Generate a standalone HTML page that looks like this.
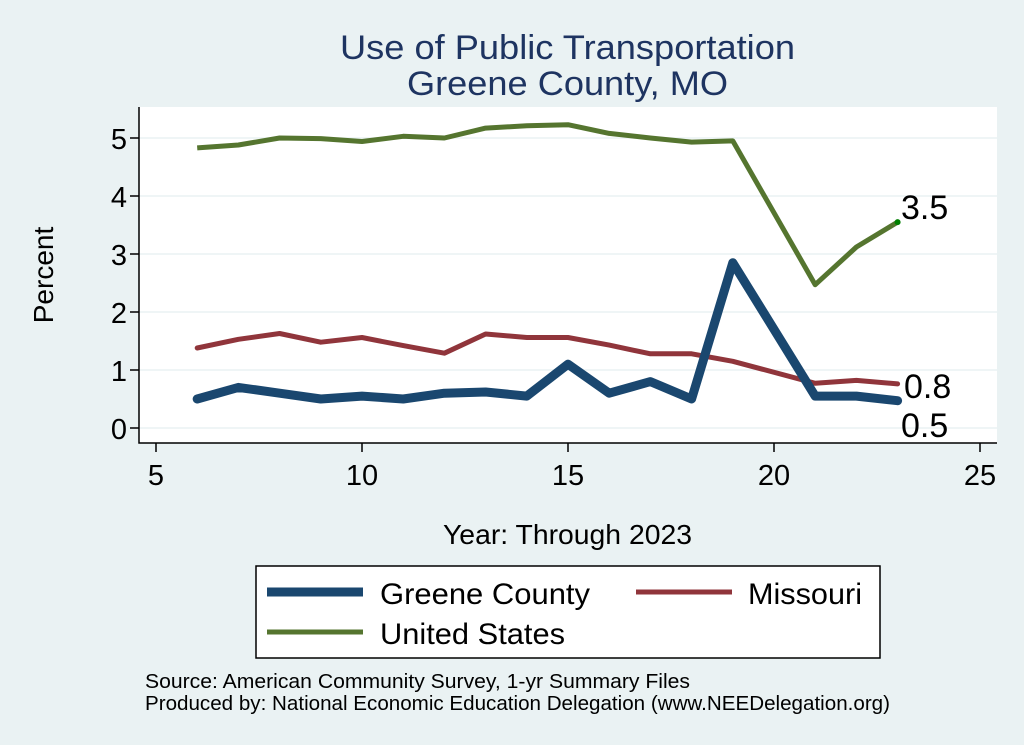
<!DOCTYPE html>
<html><head><meta charset="utf-8"><style>
html,body{margin:0;padding:0;background:#eaf2f3;}
svg{display:block;font-family:"Liberation Sans",Arial,sans-serif;}
</style></head><body>
<svg width="1024" height="745" viewBox="0 0 1024 745">
<rect width="1024" height="745" fill="#eaf2f3"/>
<rect x="139" y="107" width="858" height="336" fill="#fff"/>
<g stroke="#eaf2f3" stroke-width="1.5">
<line x1="139" x2="997" y1="428" y2="428"/><line x1="139" x2="997" y1="370" y2="370"/>
<line x1="139" x2="997" y1="312" y2="312"/><line x1="139" x2="997" y1="254" y2="254"/>
<line x1="139" x2="997" y1="196" y2="196"/><line x1="139" x2="997" y1="138" y2="138"/>
</g>
<g stroke="#000" stroke-width="1.5" fill="none">
<polyline points="139,107 139,443 997,443"/>
<line x1="130" x2="139" y1="428" y2="428"/><line x1="130" x2="139" y1="370" y2="370"/>
<line x1="130" x2="139" y1="312" y2="312"/><line x1="130" x2="139" y1="254" y2="254"/>
<line x1="130" x2="139" y1="196" y2="196"/><line x1="130" x2="139" y1="138" y2="138"/>
<line x1="156" x2="156" y1="443" y2="452"/><line x1="362" x2="362" y1="443" y2="452"/>
<line x1="568" x2="568" y1="443" y2="452"/><line x1="774" x2="774" y1="443" y2="452"/>
<line x1="980" x2="980" y1="443" y2="452"/>
</g>
<g font-size="29" fill="#000" text-anchor="end">
<text x="127" y="439">0</text><text x="127" y="381">1</text><text x="127" y="323">2</text>
<text x="127" y="265">3</text><text x="127" y="207">4</text><text x="127" y="149">5</text>
</g>
<g font-size="29" fill="#000" text-anchor="middle">
<text x="156" y="485">5</text><text x="362" y="485">10</text><text x="568" y="485">15</text>
<text x="774" y="485">20</text><text x="980" y="485">25</text>
</g>
<text x="443" y="544" font-size="28" textLength="249" lengthAdjust="spacingAndGlyphs">Year: Through 2023</text>
<text transform="translate(53,275) rotate(-90)" font-size="28" text-anchor="middle">Percent</text>
<g font-size="34" fill="#1e3461">
<text x="340" y="59" textLength="455" lengthAdjust="spacingAndGlyphs">Use of Public Transportation</text>
<text x="407" y="95" textLength="321" lengthAdjust="spacingAndGlyphs">Greene County, MO</text>
</g>
<g fill="none" stroke-linejoin="round">
<polyline stroke="#55752f" stroke-width="5" points="197.2,147.9 238.4,145 279.6,138 320.8,138.6 362,141.5 403.2,136.3 444.4,138 485.6,128.1 526.8,125.8 568,124.7 609.2,133.4 650.4,138 691.6,142.1 732.8,140.9 815.2,284.7 856.4,247 897.6,222.1"/>
<polyline stroke="#90353b" stroke-width="5" stroke-linecap="round" points="197.2,348 238.4,339.3 279.6,333.5 320.8,342.2 362,337.5 403.2,345.6 444.4,353.2 485.6,334 526.8,337.5 568,337.5 609.2,345.1 650.4,353.8 691.6,353.8 732.8,361.3 815.2,383.3 856.4,380.4 897.6,383.9"/>
<polyline stroke="#1a476f" stroke-width="9" stroke-linecap="round" points="197.2,399 238.4,387.4 279.6,393.2 320.8,399 362,396.1 403.2,399 444.4,393.2 485.6,392 526.8,396.1 568,364.2 609.2,393.2 650.4,381.6 691.6,399 732.8,262.7 815.2,396.1 856.4,396.1 897.6,400.7"/>
</g>
<circle cx="897.6" cy="222.1" r="3" fill="#008000"/>
<g font-size="34" fill="#000">
<text x="901" y="219">3.5</text>
<text x="904" y="398">0.8</text>
<text x="901" y="437">0.5</text>
</g>
<rect x="256" y="566" width="624" height="92" fill="#fff" stroke="#000" stroke-width="1.5"/>
<line x1="267" x2="363" y1="592" y2="592" stroke="#1a476f" stroke-width="9"/>
<line x1="636" x2="732" y1="592" y2="592" stroke="#90353b" stroke-width="5"/>
<line x1="267" x2="363" y1="632" y2="632" stroke="#55752f" stroke-width="5"/>
<g font-size="30" fill="#000">
<text x="380" y="604" textLength="210" lengthAdjust="spacingAndGlyphs">Greene County</text>
<text x="748" y="604" textLength="114" lengthAdjust="spacingAndGlyphs">Missouri</text>
<text x="380" y="644" textLength="185" lengthAdjust="spacingAndGlyphs">United States</text>
</g>
<g font-size="20" fill="#000">
<text x="145" y="688" textLength="545" lengthAdjust="spacingAndGlyphs">Source: American Community Survey, 1-yr Summary Files</text>
<text x="145" y="710" textLength="745" lengthAdjust="spacingAndGlyphs">Produced by: National Economic Education Delegation (www.NEEDelegation.org)</text>
</g>
</svg>
</body></html>
